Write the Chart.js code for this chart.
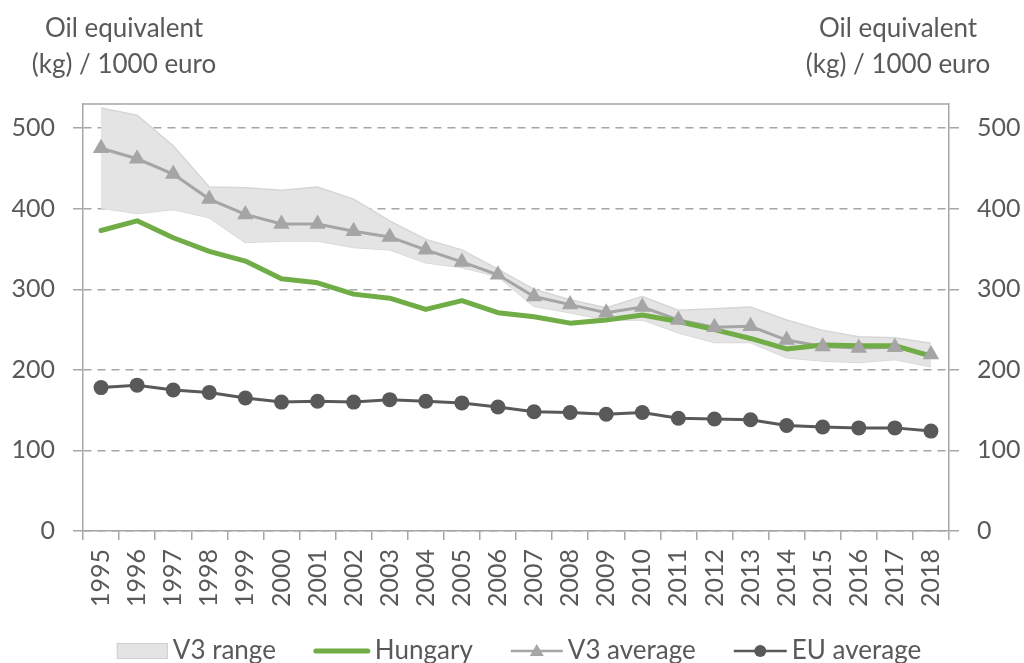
<!DOCTYPE html>
<html>
<head>
<meta charset="utf-8">
<style>
  html, body { margin: 0; padding: 0; background: #fff; }
</style>
<script src="https://cdn.jsdelivr.net/npm/chart.js@4.4.1/dist/chart.umd.min.js"></script>
</head>
<body>
<canvas id="myChart" width="1024" height="663"></canvas>
<script>
const years = ['1995','1996','1997','1998','1999','2000','2001','2002','2003','2004','2005','2006',
               '2007','2008','2009','2010','2011','2012','2013','2014','2015','2016','2017','2018'];
const hungary    = [373, 385, 364, 347, 335, 313, 308, 294, 289, 275, 286, 271, 266, 258, 262, 268, 260, 250, 239, 226, 231, 230, 230, 217];
const v3Average  = [475, 462, 443, 412, 393, 381, 381, 372, 365, 349, 334, 318, 291, 281, 271, 278, 262, 253, 254, 237, 229, 227, 228, 219];
const v3RangeMax = [525, 516, 478, 427, 426, 423, 427, 412, 385, 362, 349, 325, 300, 287, 277, 291, 274, 276, 278, 262, 249, 241, 240, 233];
const v3RangeMin = [401, 394, 399, 389, 358, 360, 360, 352, 349, 333, 327, 316, 279, 271, 262, 262, 246, 234, 234, 215, 211, 209, 213, 204];
const euAverage  = [178, 181, 175, 172, 165, 160, 161, 160, 163, 161, 159, 154, 148, 147, 145, 147, 140, 139, 138, 131, 129, 128, 128, 124];
const yTicks = [0, 100, 200, 300, 400, 500];
const axisTitle = ['Oil equivalent', '(kg) / 1000 euro'];
const legendNames = ['V3 range', 'Hungary', 'V3 average', 'EU average'];

const textColor = '#595959';
const axisColor = '#a6a6a6';
const fontFamily = 'Lato, "Open Sans", sans-serif';
const tickFont = { family: fontFamily, size: 25 };

// axis titles above both y axes
const axisTitles = {
  id: 'axisTitles',
  afterDraw(chart) {
    const c = chart.ctx;
    c.save();
    c.font = '26px ' + fontFamily;
    c.fillStyle = textColor;
    c.textAlign = 'center';
    c.textBaseline = 'middle';
    [124, 898].forEach(x => {
      c.fillText(axisTitle[0], x, 29);
      c.fillText(axisTitle[1], x, 65);
    });
    c.restore();
  }
};

// top edge of the plot area
const plotFrame = {
  id: 'plotFrame',
  afterDraw(chart) {
    const a = chart.chartArea, c = chart.ctx;
    c.save();
    c.strokeStyle = axisColor;
    c.lineWidth = 1.5;
    c.beginPath();
    c.moveTo(a.left, a.top);
    c.lineTo(a.right, a.top);
    c.stroke();
    c.restore();
  }
};

// legend drawn like the Excel one: box / line / line+marker
const bottomLegend = {
  id: 'bottomLegend',
  afterDraw(chart) {
    const c = chart.ctx;
    const y = 651;
    const icons = [
      { w: 51, draw(x) {
          c.fillStyle = '#e4e4e4'; c.strokeStyle = '#d0d0d0'; c.lineWidth = 1;
          c.fillRect(x, y - 8, 51, 16); c.strokeRect(x + 0.5, y - 7.5, 50, 15);
        } },
      { w: 56, draw(x) {
          c.strokeStyle = '#70ad47'; c.lineWidth = 5; c.lineCap = 'round';
          c.beginPath(); c.moveTo(x + 2, y); c.lineTo(x + 54, y); c.stroke();
        } },
      { w: 52, draw(x) {
          c.strokeStyle = '#a5a5a5'; c.lineWidth = 2.5; c.lineCap = 'butt';
          c.beginPath(); c.moveTo(x, y); c.lineTo(x + 52, y); c.stroke();
          c.fillStyle = '#a5a5a5';
          c.beginPath(); c.moveTo(x + 26, y - 7); c.lineTo(x + 33, y + 5); c.lineTo(x + 19, y + 5); c.closePath(); c.fill();
        } },
      { w: 53, draw(x) {
          c.strokeStyle = '#595959'; c.lineWidth = 2.5; c.lineCap = 'butt';
          c.beginPath(); c.moveTo(x, y); c.lineTo(x + 53, y); c.stroke();
          c.fillStyle = '#595959';
          c.beginPath(); c.arc(x + 26.5, y, 6, 0, Math.PI * 2); c.fill();
        } }
    ];
    c.save();
    c.font = '26px ' + fontFamily;
    const gap = 5, spacing = 38;
    const widths = legendNames.map((t, i) => icons[i].w + gap + c.measureText(t).width);
    const total = widths.reduce((s, w) => s + w, 0) + spacing * (legendNames.length - 1);
    let x = 519 - total / 2;
    legendNames.forEach((t, i) => {
      icons[i].draw(x);
      c.fillStyle = textColor;
      c.textAlign = 'left';
      c.textBaseline = 'middle';
      c.fillText(t, x + icons[i].w + gap, y);
      x += widths[i] + spacing;
    });
    c.restore();
  }
};

const ctx = document.getElementById('myChart');
const myChart = new Chart(ctx, {
  type: 'line',
  data: {
    labels: years,
    datasets: [{
      label: 'EU average',
      data: euAverage,
      borderColor: '#595959',
      backgroundColor: '#595959',
      borderWidth: 3,
      pointStyle: 'circle',
      pointRadius: 7.5,
      pointBorderWidth: 0,
      fill: false
    }, {
      label: 'V3 average (markers)',
      data: v3Average,
      showLine: false,
      pointStyle: 'triangle',
      pointRadius: 9.5,
      pointBorderWidth: 0,
      backgroundColor: '#a5a5a5',
      borderColor: '#a5a5a5',
      fill: false
    }, {
      label: 'Hungary',
      data: hungary,
      borderColor: '#70ad47',
      borderWidth: 5,
      borderCapStyle: 'round',
      borderJoinStyle: 'round',
      pointRadius: 0,
      fill: false
    }, {
      label: 'V3 average',
      data: v3Average,
      borderColor: '#a5a5a5',
      borderWidth: 3,
      pointRadius: 0,
      fill: false
    }, {
      label: 'V3 range max',
      data: v3RangeMax,
      borderColor: '#d6d6d6',
      borderWidth: 1.5,
      backgroundColor: '#e4e4e4',
      pointRadius: 0,
      fill: '+1'
    }, {
      label: 'V3 range min',
      data: v3RangeMin,
      borderColor: '#d6d6d6',
      borderWidth: 1.5,
      pointRadius: 0,
      fill: false
    }]
  },
  options: {
    responsive: false,
    animation: false,
    layout: { padding: { top: 104, bottom: 0, left: 0, right: 0 } },
    plugins: {
      legend: { display: false },
      tooltip: { enabled: false }
    },
    scales: {
      x: {
        offset: true,
        grid: { offset: true, drawOnChartArea: false, tickLength: 9, color: axisColor, lineWidth: 1.5 },
        border: { color: axisColor, width: 1.5 },
        ticks: { minRotation: 90, maxRotation: 90, autoSkip: false, padding: 9, color: textColor, font: tickFont },
        afterFit(s) { s.height = 132; }
      },
      y: {
        position: 'left',
        min: 0,
        max: 530,
        afterBuildTicks(s) { s.ticks = yTicks.map(v => ({ value: v })); },
        grid: { color: axisColor, lineWidth: 1.5, tickLength: 10 },
        border: { color: axisColor, width: 1.5, dash: [8, 6] },
        ticks: { padding: 18, color: textColor, font: tickFont },
        afterFit(s) { s.width = 83; }
      },
      y2: {
        position: 'right',
        min: 0,
        max: 530,
        afterBuildTicks(s) { s.ticks = yTicks.map(v => ({ value: v })); },
        grid: { drawOnChartArea: false, color: axisColor, lineWidth: 1.5, tickLength: 10 },
        border: { color: axisColor, width: 1.5 },
        ticks: { padding: 18, color: textColor, font: tickFont },
        afterFit(s) { s.width = 75; }
      }
    }
  },
  plugins: [axisTitles, plotFrame, bottomLegend]
});
</script>
</body>
</html>
